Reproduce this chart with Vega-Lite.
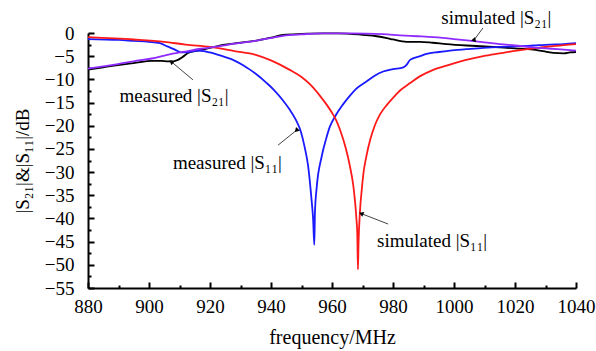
{
  "$schema": "https://vega.github.io/schema/vega-lite/v6.json",
  "width": 488,
  "height": 255,
  "autosize": {"type": "none"},
  "padding": {"left": 88, "top": 33, "right": 20, "bottom": 63},
  "background": "white",
  "config": {
    "view": {"stroke": null},
    "font": "Liberation Serif",
    "axis": {
      "grid": false,
      "domainColor": "black",
      "domainWidth": 2,
      "tickColor": "black",
      "tickWidth": 2,
      "labelColor": "black",
      "labelFont": "Liberation Serif",
      "labelFontSize": 19,
      "labelFlush": false,
      "titleFont": "Liberation Serif",
      "titleFontSize": 20,
      "titleFontWeight": "normal",
      "titleColor": "black"
    }
  },
  "datasets": {
    "curves": [
      {"series": "mS21", "f": 880, "db": -7.9},
      {"series": "mS21", "f": 885, "db": -7.4},
      {"series": "mS21", "f": 889.8, "db": -6.9},
      {"series": "mS21", "f": 895, "db": -6.5},
      {"series": "mS21", "f": 900.9, "db": -6.0},
      {"series": "mS21", "f": 904, "db": -6.0},
      {"series": "mS21", "f": 906.2, "db": -6.1},
      {"series": "mS21", "f": 908, "db": -6.1},
      {"series": "mS21", "f": 909.5, "db": -5.8},
      {"series": "mS21", "f": 911, "db": -5.2},
      {"series": "mS21", "f": 912.8, "db": -4.3},
      {"series": "mS21", "f": 915, "db": -3.9},
      {"series": "mS21", "f": 917.3, "db": -3.6},
      {"series": "mS21", "f": 920, "db": -3.2},
      {"series": "mS21", "f": 924.9, "db": -2.5},
      {"series": "mS21", "f": 930, "db": -2.1},
      {"series": "mS21", "f": 934.8, "db": -1.7},
      {"series": "mS21", "f": 940, "db": -1.0},
      {"series": "mS21", "f": 944, "db": -0.4},
      {"series": "mS21", "f": 950, "db": -0.2},
      {"series": "mS21", "f": 957, "db": -0.1},
      {"series": "mS21", "f": 962, "db": -0.1},
      {"series": "mS21", "f": 966, "db": -0.2},
      {"series": "mS21", "f": 970, "db": -0.4},
      {"series": "mS21", "f": 974.7, "db": -0.7},
      {"series": "mS21", "f": 978, "db": -1.1},
      {"series": "mS21", "f": 980, "db": -1.4},
      {"series": "mS21", "f": 984.5, "db": -1.9},
      {"series": "mS21", "f": 989, "db": -1.9},
      {"series": "mS21", "f": 993, "db": -2.1},
      {"series": "mS21", "f": 997.6, "db": -2.4},
      {"series": "mS21", "f": 1004.2, "db": -2.7},
      {"series": "mS21", "f": 1010, "db": -2.9},
      {"series": "mS21", "f": 1015, "db": -3.1},
      {"series": "mS21", "f": 1020, "db": -3.3},
      {"series": "mS21", "f": 1026, "db": -3.6},
      {"series": "mS21", "f": 1030, "db": -4.0},
      {"series": "mS21", "f": 1032.6, "db": -4.3},
      {"series": "mS21", "f": 1036, "db": -4.4},
      {"series": "mS21", "f": 1038, "db": -4.2},
      {"series": "mS21", "f": 1040, "db": -4.1},

      {"series": "mS11", "f": 880, "db": -1.3},
      {"series": "mS11", "f": 890, "db": -1.5},
      {"series": "mS11", "f": 895, "db": -1.7},
      {"series": "mS11", "f": 900, "db": -1.9},
      {"series": "mS11", "f": 903.6, "db": -2.2},
      {"series": "mS11", "f": 906, "db": -2.9},
      {"series": "mS11", "f": 908.5, "db": -3.6},
      {"series": "mS11", "f": 910.5, "db": -4.2},
      {"series": "mS11", "f": 912, "db": -4.2},
      {"series": "mS11", "f": 914, "db": -4.0},
      {"series": "mS11", "f": 916, "db": -3.8},
      {"series": "mS11", "f": 918, "db": -3.9},
      {"series": "mS11", "f": 920, "db": -4.2},
      {"series": "mS11", "f": 922.6, "db": -4.7},
      {"series": "mS11", "f": 925, "db": -5.2},
      {"series": "mS11", "f": 928.2, "db": -6.0},
      {"series": "mS11", "f": 931, "db": -7.0},
      {"series": "mS11", "f": 933.1, "db": -7.9},
      {"series": "mS11", "f": 935, "db": -8.8},
      {"series": "mS11", "f": 938.6, "db": -10.8},
      {"series": "mS11", "f": 941, "db": -12.3},
      {"series": "mS11", "f": 944, "db": -14.6},
      {"series": "mS11", "f": 946, "db": -16.4},
      {"series": "mS11", "f": 948.2, "db": -18.8},
      {"series": "mS11", "f": 949.8, "db": -21.3},
      {"series": "mS11", "f": 951, "db": -24.5},
      {"series": "mS11", "f": 952.2, "db": -28.8},
      {"series": "mS11", "f": 953.3, "db": -36.0},
      {"series": "mS11", "f": 953.8, "db": -40.0},
      {"series": "mS11", "f": 954.2, "db": -45.7},
      {"series": "mS11", "f": 954.4, "db": -38.8},
      {"series": "mS11", "f": 955, "db": -33.2},
      {"series": "mS11", "f": 956.6, "db": -26.7},
      {"series": "mS11", "f": 958, "db": -23.0},
      {"series": "mS11", "f": 959.3, "db": -20.2},
      {"series": "mS11", "f": 961, "db": -18.0},
      {"series": "mS11", "f": 963.5, "db": -15.5},
      {"series": "mS11", "f": 965.9, "db": -13.5},
      {"series": "mS11", "f": 968, "db": -12.0},
      {"series": "mS11", "f": 971.4, "db": -10.4},
      {"series": "mS11", "f": 974, "db": -9.2},
      {"series": "mS11", "f": 976.8, "db": -8.3},
      {"series": "mS11", "f": 980, "db": -7.8},
      {"series": "mS11", "f": 983.4, "db": -7.4},
      {"series": "mS11", "f": 984.5, "db": -6.8},
      {"series": "mS11", "f": 985.6, "db": -5.8},
      {"series": "mS11", "f": 988.9, "db": -5.0},
      {"series": "mS11", "f": 991, "db": -4.5},
      {"series": "mS11", "f": 995, "db": -4.1},
      {"series": "mS11", "f": 998.7, "db": -3.8},
      {"series": "mS11", "f": 1004, "db": -3.5},
      {"series": "mS11", "f": 1009.6, "db": -3.2},
      {"series": "mS11", "f": 1015, "db": -3.0},
      {"series": "mS11", "f": 1020.6, "db": -2.9},
      {"series": "mS11", "f": 1026, "db": -2.7},
      {"series": "mS11", "f": 1031.5, "db": -2.5},
      {"series": "mS11", "f": 1036, "db": -2.4},
      {"series": "mS11", "f": 1040, "db": -2.2},

      {"series": "sS11", "f": 880, "db": -0.9},
      {"series": "sS11", "f": 895, "db": -1.4},
      {"series": "sS11", "f": 905, "db": -1.9},
      {"series": "sS11", "f": 912, "db": -2.5},
      {"series": "sS11", "f": 920, "db": -3.0},
      {"series": "sS11", "f": 928, "db": -3.9},
      {"series": "sS11", "f": 935, "db": -4.7},
      {"series": "sS11", "f": 940, "db": -5.9},
      {"series": "sS11", "f": 946, "db": -7.9},
      {"series": "sS11", "f": 950, "db": -9.5},
      {"series": "sS11", "f": 953, "db": -11.2},
      {"series": "sS11", "f": 956, "db": -13.5},
      {"series": "sS11", "f": 958.3, "db": -15.5},
      {"series": "sS11", "f": 960, "db": -17.2},
      {"series": "sS11", "f": 961.5, "db": -19.0},
      {"series": "sS11", "f": 962.8, "db": -21.2},
      {"series": "sS11", "f": 964.5, "db": -24.8},
      {"series": "sS11", "f": 965.9, "db": -28.8},
      {"series": "sS11", "f": 967, "db": -33.0},
      {"series": "sS11", "f": 967.5, "db": -36.0},
      {"series": "sS11", "f": 968, "db": -40.0},
      {"series": "sS11", "f": 968.3, "db": -43.5},
      {"series": "sS11", "f": 968.5, "db": -51.0},
      {"series": "sS11", "f": 968.7, "db": -45.3},
      {"series": "sS11", "f": 969.2, "db": -38.2},
      {"series": "sS11", "f": 969.8, "db": -33.5},
      {"series": "sS11", "f": 970.3, "db": -30.3},
      {"series": "sS11", "f": 971.3, "db": -26.5},
      {"series": "sS11", "f": 972.5, "db": -23.1},
      {"series": "sS11", "f": 974, "db": -20.0},
      {"series": "sS11", "f": 975.7, "db": -17.6},
      {"series": "sS11", "f": 978, "db": -15.5},
      {"series": "sS11", "f": 980, "db": -14.0},
      {"series": "sS11", "f": 982.5, "db": -12.3},
      {"series": "sS11", "f": 985.6, "db": -10.8},
      {"series": "sS11", "f": 988.9, "db": -9.3},
      {"series": "sS11", "f": 993, "db": -8.0},
      {"series": "sS11", "f": 998.7, "db": -6.8},
      {"series": "sS11", "f": 1004, "db": -5.8},
      {"series": "sS11", "f": 1009.6, "db": -5.0},
      {"series": "sS11", "f": 1015, "db": -4.4},
      {"series": "sS11", "f": 1020.6, "db": -3.8},
      {"series": "sS11", "f": 1026, "db": -3.3},
      {"series": "sS11", "f": 1031.5, "db": -2.9},
      {"series": "sS11", "f": 1036, "db": -2.6},
      {"series": "sS11", "f": 1040, "db": -2.4},

      {"series": "sS21", "f": 880, "db": -7.7},
      {"series": "sS21", "f": 885, "db": -7.2},
      {"series": "sS21", "f": 889.8, "db": -6.7},
      {"series": "sS21", "f": 895, "db": -6.1},
      {"series": "sS21", "f": 900.9, "db": -5.5},
      {"series": "sS21", "f": 906, "db": -4.7},
      {"series": "sS21", "f": 911.8, "db": -4.0},
      {"series": "sS21", "f": 917, "db": -3.4},
      {"series": "sS21", "f": 922.6, "db": -2.9},
      {"series": "sS21", "f": 928, "db": -2.3},
      {"series": "sS21", "f": 934.8, "db": -1.7},
      {"series": "sS21", "f": 940, "db": -1.1},
      {"series": "sS21", "f": 944, "db": -0.6},
      {"series": "sS21", "f": 950, "db": -0.3},
      {"series": "sS21", "f": 957, "db": -0.1},
      {"series": "sS21", "f": 966, "db": -0.1},
      {"series": "sS21", "f": 976.7, "db": -0.25},
      {"series": "sS21", "f": 982.3, "db": -0.5},
      {"series": "sS21", "f": 988, "db": -0.7},
      {"series": "sS21", "f": 993.2, "db": -0.9},
      {"series": "sS21", "f": 1000, "db": -1.3},
      {"series": "sS21", "f": 1004.2, "db": -1.6},
      {"series": "sS21", "f": 1010, "db": -2.0},
      {"series": "sS21", "f": 1015, "db": -2.4},
      {"series": "sS21", "f": 1020, "db": -2.7},
      {"series": "sS21", "f": 1026, "db": -3.1},
      {"series": "sS21", "f": 1032, "db": -3.4},
      {"series": "sS21", "f": 1036, "db": -3.6},
      {"series": "sS21", "f": 1040, "db": -3.8}
    ],
    "notes": [
      {"label": "measured |S₂₁|", "f": 908.2, "db": -13.6, "f1": 914.4, "db1": -10.1, "f2": 907.5, "db2": -6.3},
      {"label": "measured |S₁₁|", "f": 925.7, "db": -28.0, "f1": 942.3, "db1": -24.2, "f2": 948.5, "db2": -20.9},
      {"label": "simulated |S₂₁|", "f": 1013.9, "db": 3.2, "f1": 1009.5, "db1": 1.1, "f2": 1006.6, "db2": -1.5},
      {"label": "simulated |S₁₁|", "f": 992.8, "db": -44.9, "f1": 978.4, "db1": -41.2, "f2": 969.8, "db2": -39.0}
    ]
  },
  "encoding": {
    "x": {
      "type": "quantitative",
      "scale": {"domain": [880, 1040], "nice": false, "zero": false},
      "axis": {
        "title": "frequency/MHz",
        "values": [880, 890, 900, 910, 920, 930, 940, 950, 960, 970, 980, 990, 1000, 1010, 1020, 1030, 1040],
        "labelExpr": "datum.value % 20 === 0 ? datum.label : ''",
        "labelFont": "Liberation Serif",
        "titleFont": "Liberation Serif",
        "labelFlush": false,
        "tickSize": {"condition": {"test": "datum.value % 20 === 0", "value": -6}, "value": -3},
        "labelPadding": 15,
        "titlePadding": 11,
        "format": "d"
      }
    },
    "y": {
      "type": "quantitative",
      "scale": {"domain": [-55, 0], "nice": false, "zero": false},
      "axis": {
        "title": "|S₂₁|&|S₁₁|/dB",
        "titleFontSize": 19,
        "labelFont": "Liberation Serif",
        "titleFont": "Liberation Serif",
        "values": [-55, -52.5, -50, -47.5, -45, -42.5, -40, -37.5, -35, -32.5, -30, -27.5, -25, -22.5, -20, -17.5, -15, -12.5, -10, -7.5, -5, -2.5, 0],
        "labelExpr": "datum.value % 5 === 0 ? datum.label : ''",
        "tickSize": {"condition": {"test": "datum.value % 5 === 0", "value": -6}, "value": -3},
        "labelPadding": 20,
        "titlePadding": 12
      }
    }
  },
  "layer": [
    {
      "data": {"name": "curves"},
      "mark": {"type": "line", "strokeWidth": 1.8, "interpolate": "monotone"},
      "encoding": {
        "x": {"field": "f", "type": "quantitative"},
        "y": {"field": "db", "type": "quantitative"},
        "color": {
          "field": "series",
          "type": "nominal",
          "scale": {"domain": ["mS21", "mS11", "sS11", "sS21"], "range": ["#000000", "#1a1aff", "#ff1a1a", "#8f2bff"]},
          "legend": null
        }
      }
    },
    {
      "data": {"name": "notes"},
      "mark": {"type": "rule", "color": "#444444", "strokeWidth": 1},
      "encoding": {
        "x": {"field": "f1", "type": "quantitative"},
        "x2": {"field": "f2"},
        "y": {"field": "db1", "type": "quantitative"},
        "y2": {"field": "db2"}
      }
    },
    {
      "data": {"name": "notes"},
      "mark": {"type": "point", "shape": "triangle", "filled": true, "color": "black", "size": 28, "opacity": 1},
      "encoding": {
        "x": {"field": "f2", "type": "quantitative"},
        "y": {"field": "db2", "type": "quantitative"},
        "angle": {
          "field": "label",
          "type": "nominal",
          "scale": {"domain": ["measured |S₂₁|", "measured |S₁₁|", "simulated |S₂₁|", "simulated |S₁₁|"], "range": [310, 52, 217, 291]},
          "legend": null
        }
      }
    },
    {
      "data": {"name": "notes"},
      "mark": {"type": "text", "font": "Liberation Serif", "fontSize": 19, "color": "black", "align": "center", "baseline": "middle"},
      "encoding": {
        "x": {"field": "f", "type": "quantitative"},
        "y": {"field": "db", "type": "quantitative"},
        "text": {"field": "label"}
      }
    }
  ]
}
